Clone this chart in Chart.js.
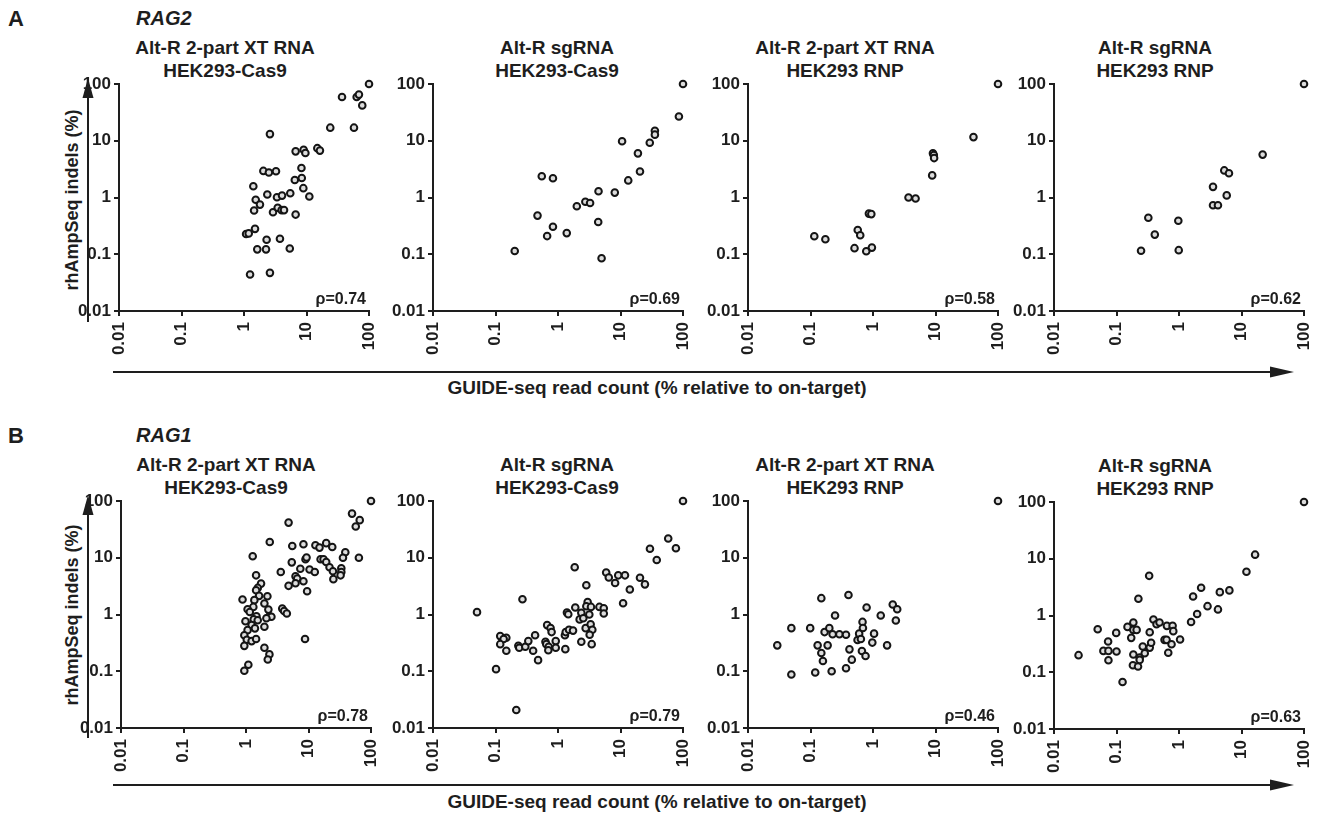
<!DOCTYPE html>
<html>
<head>
<meta charset="utf-8">
<script src="https://cdn.jsdelivr.net/npm/chart.js@4.4.1/dist/chart.umd.min.js"></script>
<style>
  body { margin: 0; background: #fff; }
  #fig { position: relative; width: 1323px; height: 814px; overflow: hidden;
         font-family: "Liberation Sans", Arial, sans-serif; color: #1e1e1e; }
  .t { position: absolute; font-weight: bold; white-space: nowrap; }
  .ttl { font-size: 19px; line-height: 23px; text-align: center; transform: translateX(-50%); }
  canvas { position: absolute; }
  svg { position: absolute; left: 0; top: 0; }
</style>
</head>
<body>
<div id="fig">
  <svg width="1323" height="814">
    <g stroke="#1e1e1e" stroke-width="2" fill="#1e1e1e">
      <line x1="88" y1="322" x2="88" y2="96"/>
      <polygon points="88,78 82.5,98 93.5,98" stroke="none"/>
      <line x1="113" y1="372" x2="1272" y2="372"/>
      <polygon points="1294,372 1270,366.5 1270,377.5" stroke="none"/>
      <line x1="88" y1="738" x2="88" y2="513"/>
      <polygon points="88,495 82.5,515 93.5,515" stroke="none"/>
      <line x1="113" y1="785" x2="1272" y2="785"/>
      <polygon points="1294,785 1270,779.5 1270,790.5" stroke="none"/>
    </g>
  </svg>
  <div class="t" style="left:8px;top:6px;font-size:22px;">A</div>
  <div class="t" style="left:136px;top:7px;font-size:20px;font-style:italic;">RAG2</div>
  <div class="t" style="left:8px;top:423px;font-size:22px;">B</div>
  <div class="t" style="left:136px;top:424px;font-size:20px;font-style:italic;">RAG1</div>
  <div class="t" style="left:72px;top:200px;font-size:18px;transform:translate(-50%,-50%) rotate(-90deg);">rhAmpSeq indels (%)</div>
  <div class="t" style="left:72px;top:615px;font-size:18px;transform:translate(-50%,-50%) rotate(-90deg);">rhAmpSeq indels (%)</div>
  <div class="t" style="left:657px;top:377px;font-size:19px;transform:translateX(-50%);">GUIDE-seq read count (% relative to on-target)</div>
  <div class="t" style="left:657px;top:791px;font-size:19px;transform:translateX(-50%);">GUIDE-seq read count (% relative to on-target)</div>
</div>
<script>
// axis ticks
const tickVals = [0.01, 0.1, 1, 10, 100];
const tickText = ['0.01', '0.1', '1', '10', '100'];

// RAG2 panels [GUIDE-seq %, rhAmpSeq %]
const rag2XtCas9 = [[2.6,13.1],[2.04,2.94],[2.5,2.75],[3.25,2.9],[6.7,6.5],[9.0,6.95],[9.6,6.1],[14.9,7.4],[16.4,6.7],
  [8.3,3.3],[8.4,2.2],[6.5,2.04],[8.9,1.46],[11.1,1.04],[5.5,1.19],[1.41,1.58],[2.36,1.13],[3.37,1.01],[4.06,1.08],
  [1.54,0.91],[1.8,0.75],[1.45,0.59],[2.91,0.55],[3.46,0.66],[4.0,0.60],[4.37,0.60],[6.7,0.50],[1.08,0.227],
  [1.19,0.233],[1.5,0.28],[2.3,0.18],[3.76,0.188],[1.63,0.122],[2.25,0.122],[5.4,0.126],[1.25,0.044],[2.6,0.047],
  [24,17],[57.5,17],[37,59],[63.5,59],[69,65],[78,42],[100,100]];
const rag2SgCas9 = [[0.203,0.114],[0.55,2.37],[0.83,2.19],[0.47,0.48],[0.83,0.305],[0.67,0.209],[1.38,0.236],
  [2.0,0.70],[2.74,0.84],[3.26,0.80],[4.45,1.29],[4.4,0.37],[4.98,0.085],[8.1,1.22],[10.6,9.8],[13.3,2.0],
  [20.5,2.87],[19,6.0],[29.4,9.2],[35.5,15],[35.5,12.8],[86,26.7],[100,100]];
const rag2XtRnp = [[0.115,0.208],[0.173,0.184],[0.57,0.268],[0.625,0.216],[0.506,0.128],[0.78,0.113],[0.96,0.131],
  [0.86,0.52],[0.94,0.51],[3.7,1.0],[4.8,0.96],[8.85,2.45],[9.1,6.0],[9.4,5.6],[9.5,4.95],[40.5,11.6],[100,100]];
const rag2SgRnp = [[0.247,0.115],[0.323,0.44],[0.41,0.222],[0.975,0.39],[0.99,0.118],[3.5,1.54],[3.5,0.73],
  [4.2,0.73],[5.3,3.0],[6.3,2.68],[5.8,1.09],[21.8,5.7],[100,100]];

// RAG1 panels
const rag1XtCas9 = [[4.8,41.6],[2.4,19],[1.28,10.6],[5.5,16.1],[8.3,17.3],[12.9,16.6],[15,15.1],[5.4,8.3],[8.95,9.4],
  [9.3,10.1],[3.6,5.6],[7.4,6.4],[10.4,6.2],[12.6,5.6],[6.2,4.7],[6.6,4.3],[8.3,3.86],[6.2,3.56],[4.8,3.2],[9.5,2.57],
  [3.8,1.27],[4.07,1.15],[4.5,1.04],[8.8,0.37],[1.45,4.9],[1.74,3.5],[1.54,2.94],[1.45,2.68],[1.62,2.13],[2.2,2.1],
  [1.36,1.79],[0.88,1.84],[1.97,1.56],[1.31,1.36],[1.06,1.24],[1.15,1.11],[2.28,1.22],[1.47,0.93],[2.37,0.93],
  [2.55,0.91],[0.98,0.76],[1.33,0.82],[1.54,0.79],[2.12,0.86],[1.23,0.65],[1.39,0.57],[1.06,0.53],[1.97,0.61],
  [0.94,0.43],[1.03,0.36],[1.23,0.34],[1.45,0.37],[0.94,0.28],[1.97,0.26],[2.37,0.198],[2.23,0.161],[1.09,0.13],
  [0.94,0.102],[49.7,60],[66,46],[57,35.5],[19.2,18.1],[24,15.5],[38.8,12.5],[35.6,10],[64,10],[15.6,9.4],
  [17.4,9.4],[19.2,8.4],[21.7,6.8],[24.6,5.8],[33.5,6.5],[33.5,5.6],[25,4.2],[32.6,4.9],[100,100]];
const rag1SgCas9 = [[0.0506,1.1],[0.102,0.109],[0.215,0.0207],[0.27,1.86],[0.119,0.416],[0.149,0.39],[0.135,0.37],
  [0.119,0.30],[0.149,0.23],[0.232,0.28],[0.24,0.26],[0.30,0.27],[0.335,0.34],[0.40,0.23],[0.43,0.43],[0.48,0.157],
  [0.67,0.65],[0.76,0.58],[0.79,0.49],[0.63,0.33],[0.65,0.30],[0.71,0.27],[0.70,0.235],[0.92,0.34],[0.92,0.26],
  [1.29,0.43],[1.31,0.245],[1.33,0.49],[1.5,0.54],[1.74,0.52],[1.39,1.08],[1.46,1.01],[1.89,1.33],[1.85,6.8],
  [2.22,0.82],[2.36,1.07],[2.54,0.86],[2.36,0.33],[2.84,3.28],[2.98,1.65],[2.84,1.4],[3.37,1.36],[3.17,1.0],
  [2.77,0.575],[3.33,0.67],[3.54,0.54],[3.21,0.44],[3.46,0.30],[4.6,1.36],[5.4,1.29],[5.4,1.04],[5.9,5.5],[6.5,4.5],
  [8.2,3.6],[9.2,4.9],[11.8,4.9],[14.1,2.76],[20.5,4.45],[24.6,3.4],[11,1.58],[29.6,14.4],[38,9.1],[58,21.8],
  [77,14.7],[100,100]];
const rag1XtRnp = [[0.0294,0.286],[0.0494,0.575],[0.0494,0.0874],[0.0989,0.575],[0.119,0.095],[0.13,0.286],
  [0.149,0.21],[0.158,0.152],[0.149,1.94],[0.168,0.49],[0.188,0.286],[0.2,0.575],[0.218,0.1],[0.226,0.45],
  [0.247,0.96],[0.29,0.45],[0.37,0.44],[0.37,0.113],[0.405,2.21],[0.42,0.243],[0.458,0.16],[0.566,0.355],[0.6,0.46],
  [0.64,0.37],[0.68,0.74],[0.69,0.58],[0.665,0.227],[0.76,0.186],[0.79,1.33],[0.975,0.32],[1.04,0.46],[1.33,0.96],
  [1.68,0.286],[2.07,1.5],[2.44,1.24],[2.32,0.785],[100,100]];
const rag1SgRnp = [[0.0247,0.2],[0.05,0.574],[0.0617,0.238],[0.0734,0.348],[0.0743,0.238],[0.0743,0.163],
  [0.0989,0.494],[0.1,0.232],[0.125,0.0675],[0.15,0.63],[0.172,0.404],[0.186,0.752],[0.186,0.558],[0.21,0.558],
  [0.186,0.205],[0.183,0.133],[0.224,1.97],[0.221,0.126],[0.235,0.182],[0.235,0.165],[0.263,0.284],[0.283,0.216],
  [0.333,5.0],[0.34,0.508],[0.34,0.272],[0.358,0.33],[0.39,0.85],[0.437,0.703],[0.488,0.752],[0.587,0.372],
  [0.632,0.372],[0.64,0.657],[0.673,0.22],[0.76,0.312],[0.79,0.657],[0.81,0.53],[1.04,0.377],[1.56,0.77],
  [1.68,2.16],[1.95,1.06],[2.26,3.08],[2.86,1.46],[4.2,1.28],[4.5,2.58],[6.4,2.77],[12,5.9],[16.5,11.8],[100,100]];

const rhoLabels = ['ρ=0.74', 'ρ=0.69', 'ρ=0.58', 'ρ=0.62', 'ρ=0.78', 'ρ=0.79', 'ρ=0.46', 'ρ=0.63'];
const titleLines = [
  ['Alt-R 2-part XT RNA', 'HEK293-Cas9'],
  ['Alt-R sgRNA', 'HEK293-Cas9'],
  ['Alt-R 2-part XT RNA', 'HEK293 RNP'],
  ['Alt-R sgRNA', 'HEK293 RNP']
];

// layout: plot box left/top in page pixels
const FONT = '"Liberation Sans", Arial, sans-serif';
const YW = 64, PT = 16, PR = 30, XH = 62, PW = 250, PH = 227;
const panels = [
  { pts: rag2XtCas9, rho: rhoLabels[0], title: titleLines[0], left: 119, top: 84, tc: 225 },
  { pts: rag2SgCas9, rho: rhoLabels[1], title: titleLines[1], left: 433, top: 84, tc: 557 },
  { pts: rag2XtRnp,  rho: rhoLabels[2], title: titleLines[2], left: 748, top: 84, tc: 845 },
  { pts: rag2SgRnp,  rho: rhoLabels[3], title: titleLines[3], left: 1054, top: 84, tc: 1155 },
  { pts: rag1XtCas9, rho: rhoLabels[4], title: titleLines[0], left: 121, top: 501, tc: 226 },
  { pts: rag1SgCas9, rho: rhoLabels[5], title: titleLines[1], left: 433, top: 501, tc: 557 },
  { pts: rag1XtRnp,  rho: rhoLabels[6], title: titleLines[2], left: 748, top: 501, tc: 845 },
  { pts: rag1SgRnp,  rho: rhoLabels[7], title: titleLines[3], left: 1054, top: 502, tc: 1155 }
];

const fig = document.getElementById('fig');

function axis(isX) {
  return {
    type: 'logarithmic',
    min: 0.01,
    max: 100,
    afterBuildTicks: s => { s.ticks = tickVals.map(v => ({ value: v })); },
    afterFit: s => { if (isX) s.height = XH; else s.width = YW; },
    ticks: {
      callback: (v, i) => tickText[i],
      autoSkip: false,
      minRotation: isX ? 90 : 0,
      maxRotation: isX ? 90 : 0,
      padding: isX ? 6 : 3,
      color: '#1e1e1e',
      font: { family: FONT, size: 17, weight: 'bold' }
    },
    grid: { display: true, drawOnChartArea: false, drawTicks: true, tickLength: 5, color: '#1e1e1e', lineWidth: 2 },
    border: { display: true, color: '#1e1e1e', width: 2 }
  };
}

const rhoPlugin = {
  id: 'rho',
  afterDraw(chart, args, opts) {
    const { ctx, chartArea } = chart;
    ctx.save();
    ctx.font = 'bold 16px ' + FONT;
    ctx.fillStyle = '#1e1e1e';
    ctx.textAlign = 'right';
    ctx.fillText(opts.text, chartArea.right - 3, chartArea.bottom - 7);
    ctx.restore();
  }
};

panels.forEach(p => {
  const ttl = document.createElement('div');
  ttl.className = 't ttl';
  ttl.style.left = p.tc + 'px';
  ttl.style.top = (p.top - 48) + 'px';
  ttl.innerHTML = p.title.join('<br>');
  fig.appendChild(ttl);

  const cv = document.createElement('canvas');
  cv.width = YW + PW + PR;
  cv.height = PT + PH + XH;
  cv.style.left = (p.left - YW) + 'px';
  cv.style.top = (p.top - PT) + 'px';
  fig.appendChild(cv);

  new Chart(cv, {
    type: 'scatter',
    data: {
      datasets: [{
        data: p.pts.map(d => ({ x: d[0], y: d[1] })),
        pointRadius: 3.3,
        pointBorderWidth: 2,
        pointBorderColor: '#141414',
        pointBackgroundColor: '#dcdcdc',
        clip: false
      }]
    },
    options: {
      responsive: false,
      animation: false,
      devicePixelRatio: 1,
      layout: { padding: { top: PT, right: PR, left: 0, bottom: 0 } },
      plugins: { legend: { display: false }, tooltip: { enabled: false }, rho: { text: p.rho } },
      scales: { x: axis(true), y: axis(false) }
    },
    plugins: [rhoPlugin]
  });
});
</script>
</body>
</html>
